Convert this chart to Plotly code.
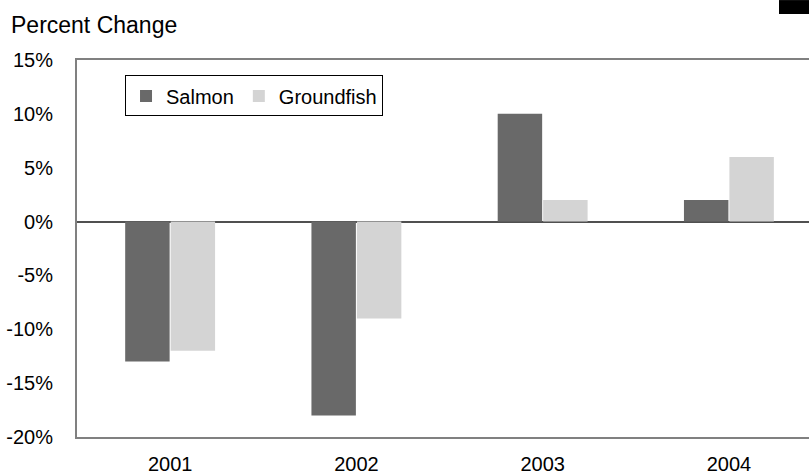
import plotly.graph_objects as go

years = ["2001", "2002", "2003", "2004"]
salmon = [-13, -18, 10, 2]
groundfish = [-12, -9, 2, 6]
y_ticks = [15, 10, 5, 0, -5, -10, -15, -20]
y_labels = ["15%", "10%", "5%", "0%", "-5%", "-10%", "-15%", "-20%"]

FONT = "Liberation Sans, Arial, sans-serif"

fig = go.Figure()
fig.add_trace(go.Bar(name="Salmon", x=years, y=salmon, marker=dict(color="#696969", line=dict(width=0))))
fig.add_trace(go.Bar(name="Groundfish", x=years, y=groundfish, marker=dict(color="#d4d4d4", line=dict(width=0))))

fig.update_layout(
    width=809, height=474,
    margin=dict(l=77, r=0, t=60, b=37, autoexpand=False),
    paper_bgcolor="white", plot_bgcolor="white",
    font=dict(family=FONT, size=20, color="black"),
    barmode="group", bargap=0.512, bargroupgap=0.022,
    showlegend=True,
    legend=dict(
        orientation="h", x=0.0656, y=0.959, xanchor="left", yanchor="top",
        bordercolor="black", borderwidth=1, bgcolor="white",
        font=dict(size=20, family=FONT), itemwidth=30, tracegroupgap=0,
    ),
    title=dict(text="Percent Change", x=0.0136, xanchor="left", xref="container",
               y=1-25/474, yanchor="middle", yref="container", pad=dict(l=0, r=0, t=0, b=0),
               font=dict(size=23, family=FONT, color="black"), automargin=False),
    shapes=[dict(type="rect", xref="paper", yref="paper", x0=0.959, x1=1.0,
                 y0=1.122, y1=1.159, fillcolor="black", line=dict(width=0), layer="above")],
)
fig.update_xaxes(
    type="category", range=[-0.5, 3.43], automargin=False,
    showline=True, linecolor="#808080", linewidth=2, mirror=True,
    ticks="", showgrid=False, tickfont=dict(size=20),
    ticklabelstandoff=8,
)
fig.update_yaxes(
    range=[-20, 15], tickvals=y_ticks, ticktext=y_labels, automargin=False,
    showline=True, linecolor="#808080", linewidth=2,
    ticks="", showgrid=False, zeroline=True, zerolinecolor="#505050", zerolinewidth=1.5,
    tickfont=dict(size=20), ticklabelstandoff=18,
)

fig.write_html("out.html", config={"displayModeBar": False},
               post_script="document.body.style.margin='0';document.body.style.overflow='hidden';")
